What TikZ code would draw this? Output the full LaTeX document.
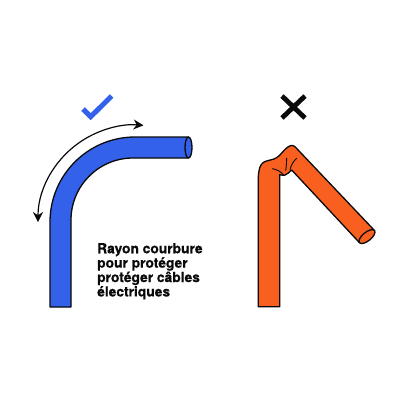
\documentclass[tikz,border=0pt]{standalone}
\usepackage{fontspec}
\setmainfont{TeX Gyre Heros}[BoldFeatures={FakeBold=0.6}]
\usetikzlibrary{arrows.meta}
\definecolor{tubeblue}{HTML}{3461EA}
\definecolor{tubeorange}{HTML}{F9601F}
\definecolor{inkblack}{HTML}{0A0A0A}
\tikzset{
  tube/.style={draw=inkblack,line width=1.3pt,line join=round},
  bendarrow/.style={draw=inkblack,line width=1.2pt,{Stealth[length=10pt,width=10pt]}-{Stealth[length=10pt,width=10pt]}},
  wrinkle/.style={draw=inkblack,line width=0.9pt,line cap=round},
  caption/.style={font=\fontsize{13.8}{12.9}\selectfont\bfseries,align=left,anchor=north west,inner sep=0pt,text=inkblack}
}
\begin{document}
\begin{tikzpicture}[x=1pt,y=-1pt]
\useasboundingbox[fill=white] (0,0) rectangle (400,400);

% Correct bend: outer arc about (135,222), inner arc about (133,220)
\fill[tubeblue] (50,307) -- (50,222) arc[start angle=180,end angle=90,x radius=85,y radius=-85] -- (188.5,137)
  -- (188.5,158) -- (133,158) arc[start angle=90,end angle=180,x radius=62,y radius=-62] -- (71,307) -- cycle;
\draw[tube] (188.5,137) -- (135,137) arc[start angle=90,end angle=180,x radius=85,y radius=-85] -- (50,307) -- (71,307)
  -- (71,220) arc[start angle=180,end angle=90,x radius=62,y radius=-62] -- (188.5,158);
\draw[tube,fill=tubeblue] (188.5,147.5) ellipse[x radius=3.5,y radius=10.5];
\coordinate (arcto) at (38,222);
\draw[bendarrow] (arcto) arc[start angle=180,end angle=85,x radius=97,y radius=-97];

% Tick mark
\draw[tubeblue,line width=5pt] (83,109) -- (90.7,116.7) -- (111.7,96);

% Cross mark
\draw[inkblack,line width=4.8pt] (282,96) -- (305,118) (305,96) -- (282,118);

% Kinked tube
\draw[tube,fill=tubeorange] (258.3,306.7) -- (258.3,178)
  .. controls (258.5,170) and (260,164) .. (264,162)
  .. controls (268,160) and (273,160) .. (276,158)
  .. controls (280,156) and (283,151) .. (286,148.5)
  .. controls (289,146) and (292,144) .. (295,146.7)
  -- (374.5,230.5) -- (359.5,242.7) -- (291.7,170)
  .. controls (289,172) and (287,175) .. (284.5,175.3)
  .. controls (283,175.5) and (281.5,175) .. (279.7,174.5)
  -- (279.7,306.7) -- cycle;
\draw[tube,fill=tubeorange,rotate around={39:(367,236.6)}] (367,236.6) ellipse[x radius=9.7,y radius=4.3];
\draw[wrinkle] (272.3,168.7) .. controls (277,169.5) and (281,171.5) .. (283.5,175);
\draw[wrinkle] (286.7,158) .. controls (286.5,162) and (286.5,166) .. (285.7,170.5);
\draw[wrinkle] (296.7,158.3) .. controls (293.5,161) and (291,165) .. (290,170);

\node[caption] (note) at (97,243) {Rayon courbure\\pour protéger\\protéger câbles\\électriques};
\end{tikzpicture}
\end{document}
